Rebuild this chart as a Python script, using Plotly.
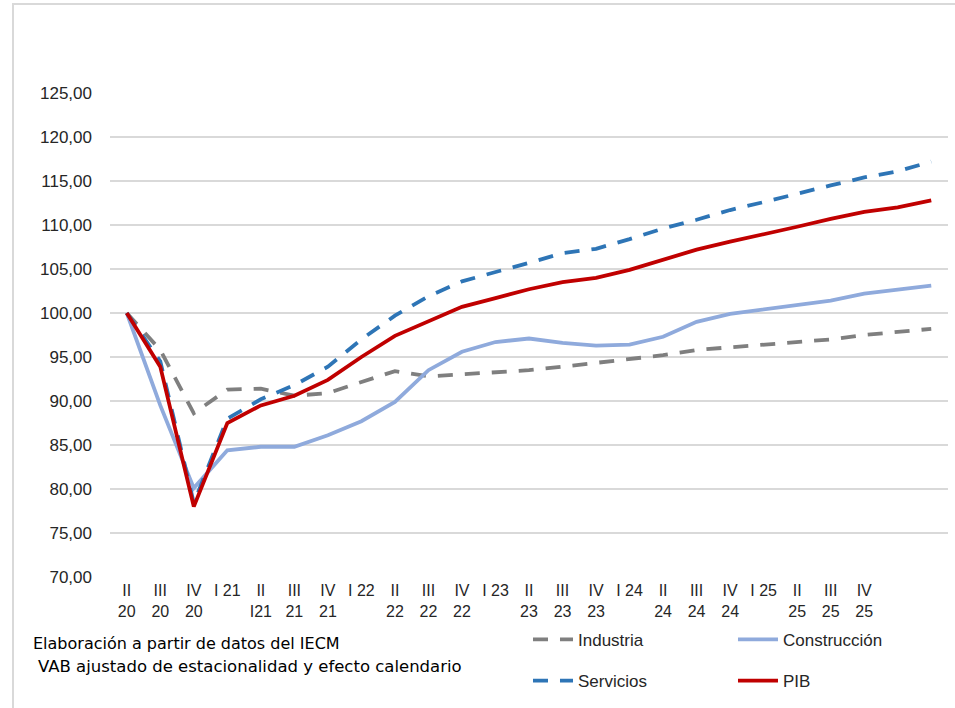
import plotly.graph_objects as go

tick_labels = ["II<br>20", "III<br>20", "IV<br>20", "I 21", "II<br>I21", "III<br>21", "IV<br>21",
               "I 22", "II<br>22", "III<br>22", "IV<br>22", "I 23", "II<br>23", "III<br>23",
               "IV<br>23", "I 24", "II<br>24", "III<br>24", "IV<br>24", "I 25", "II<br>25",
               "III<br>25", "IV<br>25", "", ""]

industria = [100.0, 95.8, 88.6, 91.3, 91.4, 90.6, 90.9, 92.1, 93.4, 92.8, 93.0, 93.3, 93.5,
             93.9, 94.3, 94.8, 95.2, 95.8, 96.1, 96.5, 96.7, 97.0, 97.5, 97.8, 98.2]
construccion = [100.0, 89.5, 80.1, 84.4, 84.8, 84.8, 86.1, 87.7, 89.9, 93.5, 95.6, 96.7, 97.1,
                96.6, 96.3, 96.4, 97.3, 99.0, 99.9, 100.4, 100.8, 101.4, 102.2, 102.6, 103.1]
servicios = [100.0, 94.5, 78.4, 88.0, 90.2, 91.8, 93.9, 97.0, 99.7, 101.9, 103.6, 104.6, 105.7,
             106.8, 107.3, 108.4, 109.6, 110.6, 111.7, 112.6, 113.6, 114.5, 115.4, 116.1, 117.2]
pib = [100.0, 93.9, 78.0, 87.5, 89.5, 90.6, 92.4, 95.0, 97.4, 99.1, 100.7, 101.7, 102.7,
       103.5, 104.0, 104.9, 106.1, 107.2, 108.1, 108.9, 109.8, 110.7, 111.5, 112.0, 112.8]

x = list(range(len(tick_labels)))

fig = go.Figure()
fig.add_trace(go.Scatter(x=x, y=industria, name="Industria", mode="lines",
                         line=dict(color="#7f7f7f", width=3.8, dash="15px,12px"), legend="legend"))
fig.add_trace(go.Scatter(x=x, y=construccion, name="Construcción", mode="lines",
                         line=dict(color="#8faadc", width=3.8), legend="legend"))
fig.add_trace(go.Scatter(x=x, y=servicios, name="Servicios", mode="lines",
                         line=dict(color="#2e75b6", width=3.8, dash="15px,12px"), legend="legend2"))
fig.add_trace(go.Scatter(x=x, y=pib, name="PIB", mode="lines",
                         line=dict(color="#c00000", width=3.8), legend="legend2"))

font_main = "Liberation Sans, Arial, sans-serif"
legend_font = dict(family=font_main, size=17, color="#262626")

fig.update_layout(
    width=955, height=708,
    margin=dict(l=110, r=7, t=93, b=131),
    paper_bgcolor="white", plot_bgcolor="white",
    font=dict(family=font_main, size=16, color="#262626"),
    xaxis=dict(range=[-0.5, len(tick_labels) - 0.5], tickmode="array",
               tickvals=x, ticktext=tick_labels, showgrid=False, zeroline=False,
               showline=False, ticks="", ticklabelstandoff=2,
               tickfont=dict(family=font_main, size=16, color="#262626")),
    yaxis=dict(range=[70, 125], dtick=5, tick0=70, tickformat=".2f",
               showgrid=True, gridcolor="#d9d9d9", gridwidth=1.5,
               zeroline=False, showline=False, ticks="", ticklabelstandoff=17,
               tickfont=dict(family=font_main, size=17, color="#262626")),
    separators=",.",
    legend=dict(orientation="h", x=0.4988, y=-0.13, xanchor="left", yanchor="middle",
                entrywidth=150, itemwidth=40, bgcolor="rgba(0,0,0,0)", font=legend_font),
    legend2=dict(orientation="h", x=0.4988, y=-0.215, xanchor="left", yanchor="middle",
                 entrywidth=150, itemwidth=40, bgcolor="rgba(0,0,0,0)", font=legend_font),
    showlegend=True,
)

fig.add_annotation(xref="paper", yref="paper", x=-0.094, y=-0.137, xanchor="left",
                   yanchor="middle", showarrow=False, align="left",
                   text="Elaboración a partir de datos del IECM",
                   font=dict(family="DejaVu Sans, sans-serif", size=16, color="#000000"))
fig.add_annotation(xref="paper", yref="paper", x=-0.088, y=-0.185, xanchor="left",
                   yanchor="middle", showarrow=False, align="left",
                   text="VAB ajustado de estacionalidad y efecto calendario",
                   font=dict(family="DejaVu Sans, sans-serif", size=16.5, color="#000000"))

# outer chart frame
fig.add_shape(type="rect", xref="paper", yref="paper",
              x0=(13 - 110) / 838, x1=(975 - 110) / 838,
              y0=(577 - 730) / 484, y1=(577 - 4) / 484,
              line=dict(color="#d9d9d9", width=2), fillcolor="rgba(0,0,0,0)", layer="below")

fig.write_html("out.html", config={"displayModeBar": False},
               post_script="document.body.style.margin='0px';")
